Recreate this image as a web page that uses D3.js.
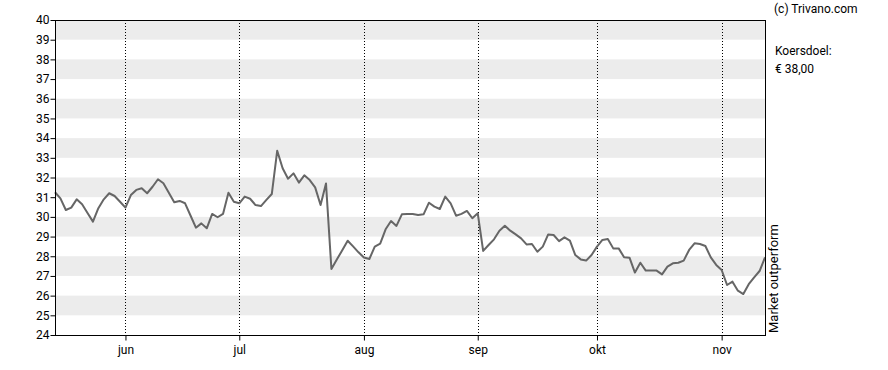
<!DOCTYPE html>
<html>
<head>
<meta charset="utf-8">
<script src="https://cdn.jsdelivr.net/npm/d3@7"></script>
<style>
  body { margin: 0; background: #fff; }
  svg text { font-family: Roboto, Arial, sans-serif; font-size: 12px; fill: #000; }
</style>
</head>
<body>
<svg id="chart"></svg>
<script>
/* koers, een punt per handelsdag */
var prices = [
  31.25, 30.94, 30.35, 30.47, 30.89, 30.64, 30.2, 29.76, 30.44, 30.89,
  31.2, 31.06, 30.77, 30.47, 31.11, 31.37, 31.45, 31.2, 31.53, 31.91,
  31.71, 31.23, 30.74, 30.81, 30.69, 30.07, 29.45, 29.67, 29.42, 30.15,
  29.98, 30.15, 31.23, 30.77, 30.69, 31.03, 30.92, 30.6, 30.55, 30.86,
  31.16, 33.36, 32.47, 31.94, 32.21, 31.74, 32.11, 31.87, 31.5, 30.6,
  31.7, 27.35, 27.83, 28.31, 28.79, 28.5, 28.2, 27.94, 27.86, 28.49,
  28.64, 29.37, 29.79, 29.54, 30.13, 30.15, 30.15, 30.1, 30.13, 30.72,
  30.52, 30.4, 31.03, 30.69, 30.06, 30.15, 30.3, 29.93, 30.18, 28.27,
  28.57, 28.86, 29.3, 29.55, 29.3, 29.11, 28.91, 28.6, 28.62, 28.23,
  28.49, 29.11, 29.08, 28.77, 28.96, 28.79, 28.06, 27.84, 27.78, 28.06,
  28.49, 28.83, 28.88, 28.4, 28.4, 27.95, 27.93, 27.17, 27.67, 27.27,
  27.27, 27.27, 27.08, 27.47, 27.64, 27.67, 27.78, 28.32, 28.66, 28.62,
  28.52, 27.94, 27.56, 27.3, 26.54, 26.71, 26.25, 26.08, 26.58, 26.93,
  27.25, 27.94
];

var monthLabels = ["jun", "jul", "aug", "sep", "okt", "nov"];
var monthIndex = [13, 34, 57, 78, 100, 123];  // eerste handelsdag
var yTicks = d3.range(24, 41);
var yDomain = [24, 40];

var sideTexts = ["Koersdoel:", "\u20ac 38,00"];
var copyright = "(c) Trivano.com";
var rating = "Market outperform";

var width = 888, height = 370,
    margin = { top: 20, right: 123, bottom: 35, left: 55 };
var innerWidth = width - margin.left - margin.right,
    innerHeight = height - margin.top - margin.bottom;

var svg = d3.select("#chart").attr("width", width).attr("height", height);
var g = svg.append("g")
    .attr("transform", "translate(" + margin.left + "," + margin.top + ")");

var xScale = d3.scaleLinear().domain([0, prices.length - 1]).range([0, innerWidth]);
var yScale = d3.scaleLinear().domain(yDomain).range([innerHeight, 0]);

/* grijze banden */
var bands = yTicks.filter(function(v) { return v % 2 === 1 && v < yDomain[1]; });
g.selectAll("rect.band").data(bands).enter().append("rect")
    .attr("class", "band")
    .attr("x", 0)
    .attr("width", innerWidth)
    .attr("y", function(d) { return yScale(d + 1); })
    .attr("height", function(d) { return yScale(d) - yScale(d + 1); })
    .attr("fill", "#ececec");

/* maandlijnen, gestippeld */
g.selectAll("line.month").data(monthIndex).enter().append("line")
    .attr("class", "month")
    .attr("x1", function(d) { return Math.round(xScale(d)) + 0.5; })
    .attr("x2", function(d) { return Math.round(xScale(d)) + 0.5; })
    .attr("y1", 0).attr("y2", innerHeight)
    .attr("stroke", "#000")
    .attr("stroke-dasharray", "1,2");

/* koerslijn */
var line = d3.line()
    .x(function(d, i) { return xScale(i); })
    .y(function(d) { return yScale(d); });

g.append("path")
    .datum(prices)
    .attr("fill", "none")
    .attr("stroke", "#666")
    .attr("stroke-width", 2)
    .attr("stroke-linejoin", "round")
    .attr("d", line);

/* kader */
g.append("rect")
    .attr("x", 0.5).attr("y", 0.5)
    .attr("width", innerWidth).attr("height", innerHeight)
    .attr("fill", "none").attr("stroke", "#000");

/* y-as */
var yAxis = d3.axisLeft(yScale).tickValues(yTicks).tickSize(5).tickFormat(d3.format("d"));
var yG = g.append("g").attr("transform", "translate(0.5,0)").call(yAxis);
yG.select(".domain").remove();
yG.selectAll("text").attr("x", -6).style("font-size", "12px").style("font-family", "Roboto, Arial, sans-serif");

/* x-as */
var xAxis = d3.axisBottom(xScale).tickValues(monthIndex).tickSize(5)
    .tickFormat(function(d, i) { return monthLabels[i]; });
var xG = g.append("g").attr("transform", "translate(0," + (innerHeight + 0.5) + ")").call(xAxis);
xG.select(".domain").remove();
xG.selectAll("text").attr("y", 10).style("font-size", "12px").style("font-family", "Roboto, Arial, sans-serif");

/* teksten rechts */
svg.append("text").attr("x", 774).attr("y", 13).text(copyright);
svg.selectAll("text.side").data(sideTexts).enter().append("text")
    .attr("class", "side")
    .attr("x", 775)
    .attr("y", function(d, i) { return 55 + i * 18; })
    .text(function(d) { return d; });
svg.append("text")
    .attr("transform", "translate(768,333) rotate(-90)")
    .attr("dy", "0.75em")
    .style("font-size", "13px")
    .text(rating);
</script>
</body>
</html>
